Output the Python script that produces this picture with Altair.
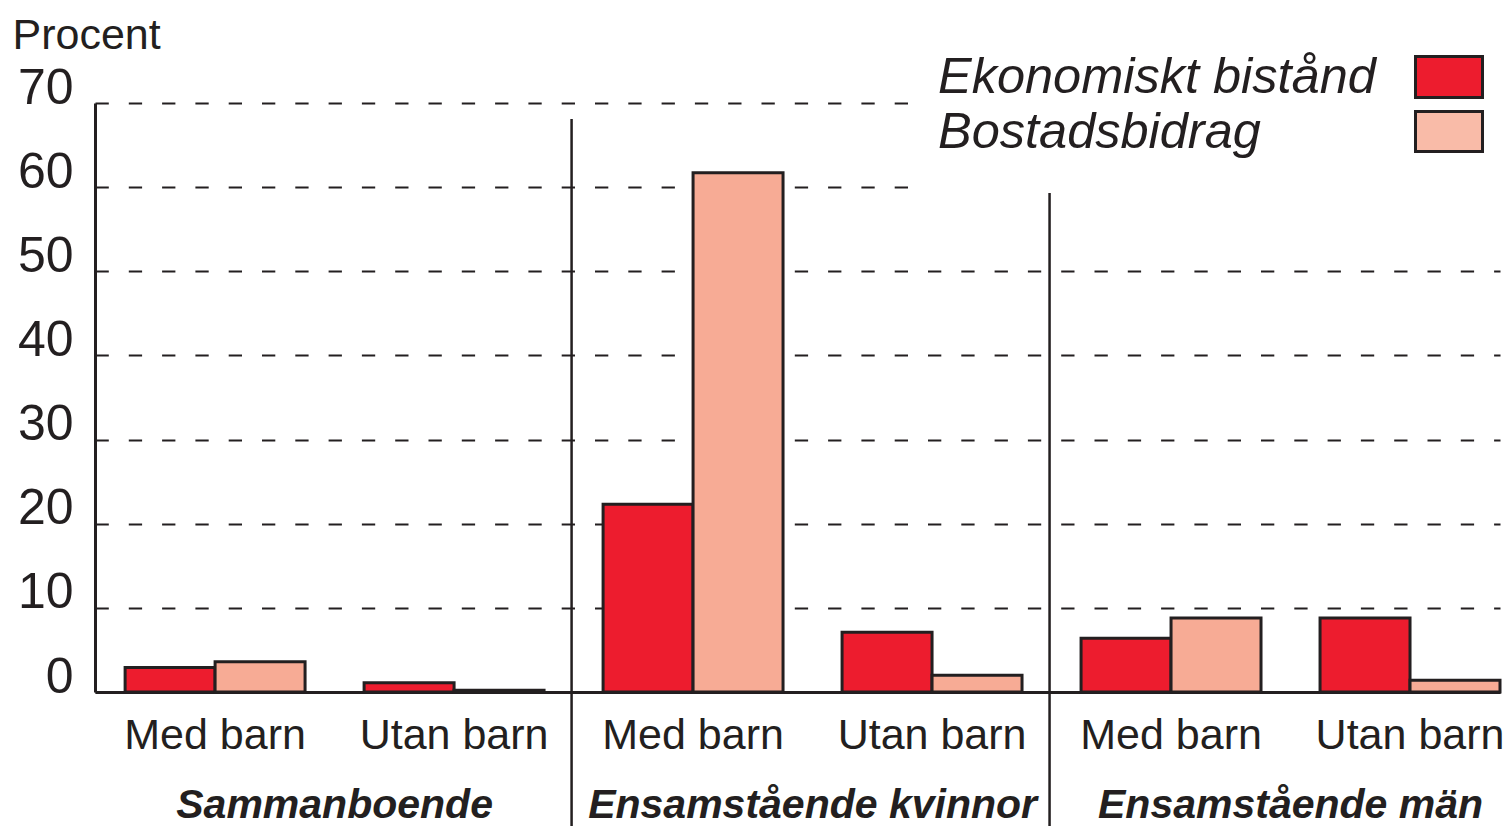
import altair as alt
import pandas as pd

# ---- data ----
groups = ["Sammanboende", "Ensamstående kvinnor", "Ensamstående män"]
subgroups = ["Med barn", "Utan barn"]
series = ["Ekonomiskt bistånd", "Bostadsbidrag"]
ekonomiskt_bistand = [2.9, 1.1, 22.3, 7.1, 6.4, 8.8]
bostadsbidrag = [3.6, 0.2, 61.7, 2.0, 8.8, 1.4]
y_ticks = [0, 10, 20, 30, 40, 50, 60, 70]
divider_tops = [68.1, 59.3]  # top of the vertical group dividers (value units)

FONT = "Liberation Sans"
DARK = "#231f20"
RED = "#ed1c2e"
PINK = "#f7ab95"
PINK_LEG = "#f9bba8"

slots = [f"{g}|{s}" for g in groups for s in subgroups]
rows = []
for i, slot in enumerate(slots):
    rows.append({"slot": slot, "series": series[0], "value": ekonomiskt_bistand[i]})
    rows.append({"slot": slot, "series": series[1], "value": bostadsbidrag[i]})
bars_df = pd.DataFrame(rows)

div_df = pd.DataFrame({"slot": [f"{g}|Med barn" for g in groups[1:]], "top": divider_tops})
grp_df = pd.DataFrame({"slot": [f"{g}|Utan barn" for g in groups], "group": groups})

W, H = 1405, 589
HALF_GAP = -29.5  # half of the inner gap between slots, in pixels

x_scale = alt.Scale(domain=slots, paddingInner=0.247, paddingOuter=0.063, align=1)
x_axis = alt.Axis(
    labelExpr="split(datum.label, '|')[1]", labelFontSize=43, labelFont=FONT,
    labelColor=DARK, labelPadding=56, labelBaseline="alphabetic", labelAngle=0,
    labelLimit=0, ticks=False, tickSize=0, domainColor=DARK, domainWidth=3,
    grid=False, title=None,
)
y_scale = alt.Scale(domain=[0, 70], nice=False, zero=True)
y_axis = alt.Axis(
    values=y_ticks, grid=True, gridDash=[13.3, 20], gridColor=DARK, gridWidth=2,
    domain=True, domainColor=DARK, domainWidth=3, ticks=False, tickSize=0,
    labelFontSize=50, labelFont=FONT, labelColor=DARK, labelPadding=22,
    labelBaseline="alphabetic",
    title="Procent", titleAngle=0, titleX=-83, titleY=-55, titleAlign="left",
    titleBaseline="alphabetic", titleFontSize=43, titleFontWeight="normal",
    titleColor=DARK, titleFont=FONT,
)

bars = alt.Chart(bars_df).mark_bar(stroke=DARK, strokeWidth=3).encode(
    x=alt.X("slot:N", scale=x_scale, axis=x_axis, title=None),
    xOffset=alt.XOffset("series:N", scale=alt.Scale(domain=series, paddingInner=0, paddingOuter=0)),
    y=alt.Y("value:Q", scale=y_scale, axis=y_axis),
    color=alt.Color("series:N", scale=alt.Scale(domain=series, range=[RED, PINK]), legend=None),
)

dividers = alt.Chart(div_df).mark_rule(color=DARK, strokeWidth=2.5, xOffset=HALF_GAP - 2).encode(
    x=alt.X("slot:N", scale=x_scale, axis=x_axis, title=None, bandPosition=0),
    y=alt.Y("top:Q", scale=y_scale, axis=y_axis),
    y2=alt.value(H + 160),
)

group_labels = alt.Chart(grp_df).mark_text(
    font=FONT, fontSize=41, fontStyle="italic", fontWeight="bold",
    align="center", baseline="alphabetic", color=DARK, xOffset=HALF_GAP,
).encode(
    x=alt.X("slot:N", scale=x_scale, axis=x_axis, title=None, bandPosition=0),
    y=alt.value(H + 126),
    text="group:N",
)

one = alt.Data(values=[{"a": 1}])
legend_bg = alt.Chart(one).mark_rect(color="white").encode(
    x=alt.value(817), x2=alt.value(1420), y=alt.value(-75), y2=alt.value(90)
)
legend_layers = [legend_bg]
leg_text_y = [-10, 45]
leg_box_y = [(-46.5, -5.5), (8.5, 48.5)]
leg_cols = [RED, PINK_LEG]
for i, s in enumerate(series):
    d = alt.Data(values=[{"series": s}])
    legend_layers.append(
        alt.Chart(d).mark_text(font=FONT, fontSize=50.5, fontStyle="italic", align="left",
                               baseline="alphabetic", color=DARK).encode(
            x=alt.value(843), y=alt.value(leg_text_y[i]), text="series:N")
    )
    legend_layers.append(
        alt.Chart(d).mark_rect(fill=leg_cols[i], stroke=DARK, strokeWidth=3).encode(
            x=alt.value(1320.5), x2=alt.value(1387.5),
            y=alt.value(leg_box_y[i][0]), y2=alt.value(leg_box_y[i][1]))
    )

chart = alt.layer(bars, dividers, group_labels, *legend_layers).properties(
    width=W, height=H,
    autosize=alt.AutoSizeParams(type="none"),
    padding={"left": 87, "top": 95, "right": 4, "bottom": 134},
    background="white",
).configure_view(stroke=None)

chart.save("out.html", embed_options={"renderer": "svg", "actions": False})
